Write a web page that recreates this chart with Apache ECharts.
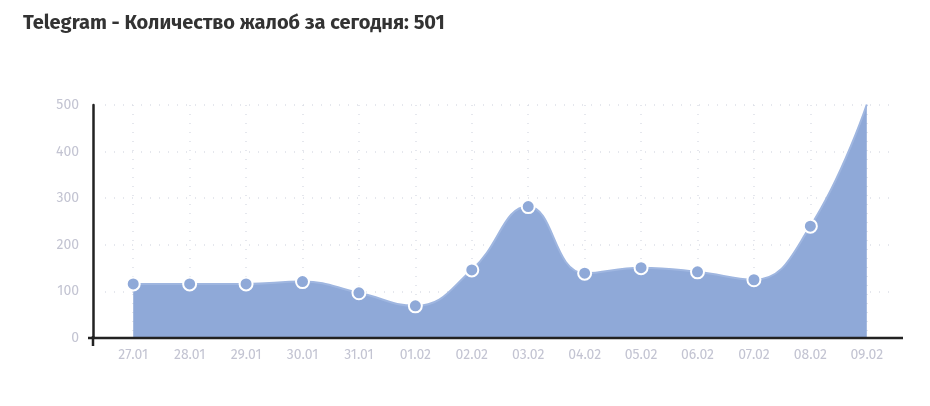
<!DOCTYPE html>
<html>
<head>
<meta charset="utf-8">
<script src="https://cdn.jsdelivr.net/npm/echarts@6/dist/echarts.min.js"></script>
<style>html,body{margin:0;background:#fff}#c{width:930px;height:406px}</style>
</head>
<body>
<div id="c"></div>
<script>
const days = ["27.01","28.01","29.01","30.01","31.01","01.02","02.02","03.02","04.02","05.02","06.02","07.02","08.02","09.02"];
const complaints = [116,116,116,121,97,69,146,282,139,151,142,125,240,501];
const yTicks = [0,100,200,300,400,500];
const todayTotal = 501;

const chart = echarts.init(document.getElementById("c"));
const halfSteps = Array.from({length: days.length * 2 + 1}, (_, i) => String(i));
const font = "Fira Sans, 'Open Sans', 'Noto Sans', sans-serif";

chart.setOption({
  animation: false,
  title: {
    text: "{n|Telegram - Количество жалоб за сегодня: }{b|" + todayTotal + "}",
    left: 18, top: 8,
    textStyle: {
      rich: {
        n: { fontSize: 20, color: "#333", fontFamily: font },
        b: { fontSize: 20, color: "#333", fontWeight: "bold", fontFamily: font }
      }
    }
  },
  grid: { left: 105, right: 35, top: 105, bottom: 68 },
  xAxis: [
    {
      type: "category", data: days, boundaryGap: true,
      axisLine: { show: false }, axisTick: { show: false },
      axisLabel: { color: "#c3c4d2", fontSize: 14, margin: 10, fontFamily: font },
      splitLine: { show: false }
    },
    {
      type: "category", data: halfSteps, boundaryGap: false, position: "bottom",
      axisLine: { show: false }, axisTick: { show: false }, axisLabel: { show: false },
      splitLine: { show: true, interval: (i) => i % 2 === 1,
        lineStyle: { color: "#dde0e8", type: [1, 8], width: 1.5 } }
    }
  ],
  yAxis: {
    type: "value", min: 0, max: 500, interval: 100, offset: 12,
    axisLine: { show: true, lineStyle: { color: "#222", width: 2.5 } },
    axisTick: { show: false },
    axisLabel: { color: "#c3c4d2", fontSize: 14, margin: 14, fontFamily: font,
      formatter: (v) => yTicks.includes(v) ? String(v) : "" },
    splitLine: { lineStyle: { color: "#dde0e8", type: [1, 8], width: 1.5 } }
  },
  graphic: [{
    type: "line", z: 10,
    shape: { x1: 88, y1: 338, x2: 903, y2: 338 },
    style: { stroke: "#222", lineWidth: 2.5 }
  }, {
    type: "line", z: 10,
    shape: { x1: 93, y1: 336, x2: 93, y2: 346 },
    style: { stroke: "#222", lineWidth: 2.5 }
  }],
  series: [{
    type: "line", data: complaints, smooth: 0.45,
    symbol: "circle", symbolSize: 13,
    itemStyle: { color: "#8fa9d8", borderColor: "#fff", borderWidth: 2 },
    lineStyle: { color: "#9fb6e0", width: 2 },
    areaStyle: { color: "#8fa9d8", opacity: 1 }
  }]
});
</script>
</body>
</html>
